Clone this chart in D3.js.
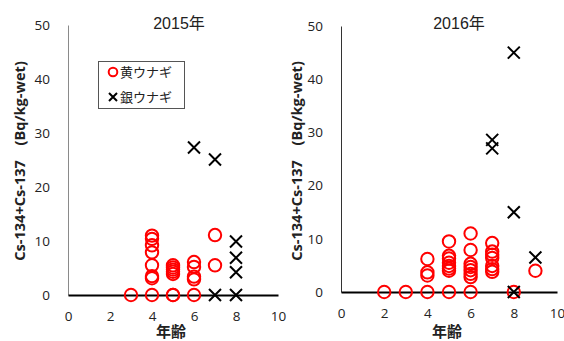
<!DOCTYPE html>
<html><head><meta charset="utf-8">
<script src="https://cdn.jsdelivr.net/npm/d3@7"></script>
<style>body{margin:0;background:#fff}svg{display:block}</style>
</head><body>
<svg id="c" width="564" height="341"></svg>
<script>
const xTicks = [0, 2, 4, 6, 8, 10];
const yTicks = [0, 10, 20, 30, 40, 50];
const titles = ["2015年", "2016年"];
const xLabel = "年齢";
const yLabel = "Cs-134+Cs-137\u3000(Bq/kg-wet)";
const legendNames = ["黄ウナギ", "銀ウナギ"];

// [age, Cs-134+Cs-137 (Bq/kg-wet)]
const yellow2015 = [[3,0],[4,0],[4,3.1],[4,3.5],[4,5.5],[4,7.9],[4,9.2],[4,10.4],[4,11.0],
  [5,0],[5,0],[5,3.9],[5,4.3],[5,4.7],[5,5.1],[5,5.5],
  [6,0],[6,2.9],[6,3.4],[6,5.2],[6,6.1],[7,5.5],[7,11.1]];
const silver2015 = [[6,27.3],[7,25.1],[7,0],[8,0],[8,4.2],[8,6.9],[8,9.9]];
const yellow2016 = [[2,0],[3,0],[4,0],[4,3.1],[4,3.7],[4,6.2],
  [5,0],[5,4.0],[5,4.4],[5,4.9],[5,5.5],[5,6.3],[5,6.8],[5,9.5],
  [6,0],[6,2.8],[6,3.4],[6,4.1],[6,4.7],[6,5.3],[6,7.9],[6,11.0],
  [7,3.8],[7,4.3],[7,4.9],[7,6.4],[7,7.0],[7,7.6],[7,9.2],[8,0],[9,4.0]];
const silver2016 = [[7,27.0],[7,28.6],[8,45.0],[8,15.0],[8,0],[9,6.5]];

const panels = [
  {title: titles[0], yellow: yellow2015, silver: silver2015, x0: 68, x1: 278, yTop: 25, yZero: 295, yAxisColor: "#8a8a8a", yLabX: 20, titleX: 179, legend: true},
  {title: titles[1], yellow: yellow2016, silver: silver2016, x0: 341, x1: 557, yTop: 26, yZero: 292, yAxisColor: "#333", yLabX: 297, titleX: 459, legend: false}
];

const svg = d3.select("#c");
const numFont = "'Open Sans', sans-serif";
const cjkFont = "'Noto Sans CJK JP', sans-serif";

function circleMark(g, cx, cy) {
  g.append("circle").attr("cx", cx).attr("cy", cy).attr("r", 6.2)
    .attr("fill", "none").attr("stroke", "#ff0000").attr("stroke-width", 2);
}
function crossMark(g, cx, cy, s) {
  s = s || 6;
  g.append("path").attr("d", `M${cx-s},${cy-s}L${cx+s},${cy+s}M${cx-s},${cy+s}L${cx+s},${cy-s}`)
    .attr("stroke", "#000").attr("stroke-width", 2).attr("fill", "none");
}

panels.forEach(p => {
  const x = d3.scaleLinear().domain([0, 10]).range([p.x0, p.x1]);
  const y = d3.scaleLinear().domain([0, 50]).range([p.yZero, p.yTop]);
  const g = svg.append("g");

  // y axis
  const ya = g.append("g").attr("transform", `translate(${p.x0},0)`)
    .call(d3.axisLeft(y).tickValues(yTicks).tickSize(0).tickPadding(18).tickFormat(d3.format("d")));
  ya.select(".domain").attr("stroke", p.yAxisColor).attr("stroke-width", 1);
  ya.selectAll("text").attr("font-family", numFont).attr("font-size", 13.5).attr("fill", "#222");

  // x axis
  const xa = g.append("g").attr("transform", `translate(0,${p.yZero})`)
    .call(d3.axisBottom(x).tickValues(xTicks).tickSize(0).tickPadding(16).tickFormat(d3.format("d")));
  xa.select(".domain").attr("stroke", "#000").attr("stroke-width", 2);
  xa.selectAll("text").attr("font-family", numFont).attr("font-size", 13.5).attr("fill", "#222");

  // title
  g.append("text").attr("x", p.titleX).attr("y", 29).attr("text-anchor", "middle")
    .attr("font-family", "'Liberation Sans', 'Noto Sans CJK JP', sans-serif").attr("font-size", 16).attr("fill", "#222").text(p.title);
  // x label
  g.append("text").attr("x", (p.x0 + p.x1) / 2 - 2).attr("y", 337).attr("text-anchor", "middle")
    .attr("font-family", cjkFont).attr("font-size", 15).attr("font-weight", "bold").attr("fill", "#222").text(xLabel);
  // y label
  const yl = g.append("text").attr("transform", `translate(${p.yLabX + 5},161) rotate(-90)`).attr("text-anchor", "middle")
    .attr("font-family", "'Open Sans', 'Noto Sans CJK JP', sans-serif").attr("font-size", 14).attr("font-weight", "bold")
    .attr("fill", "#222").text(yLabel);
  const len = yl.node().getComputedTextLength();
  if (len > 0) yl.attr("font-size", 14 * 200 / len);

  // points
  const pts = g.append("g");
  p.yellow.forEach(d => circleMark(pts, x(d[0]), y(d[1])));
  p.silver.forEach(d => crossMark(pts, x(d[0]), y(d[1])));

  if (p.legend) {
    const lg = g.append("g");
    lg.append("rect").attr("x", 98.5).attr("y", 61.5).attr("width", 86).attr("height", 47)
      .attr("fill", "#fff").attr("stroke", "#555").attr("stroke-width", 1);
    lg.append("circle").attr("cx", 113).attr("cy", 72).attr("r", 4.3)
      .attr("fill", "none").attr("stroke", "#ff0000").attr("stroke-width", 2);
    crossMark(lg, 113, 97, 4);
    legendNames.forEach((n, i) => {
      lg.append("text").attr("x", 120).attr("y", 77 + i * 25).attr("font-family", cjkFont)
        .attr("font-size", 13).attr("fill", "#222").text(n);
    });
  }
});
</script>
</body></html>
